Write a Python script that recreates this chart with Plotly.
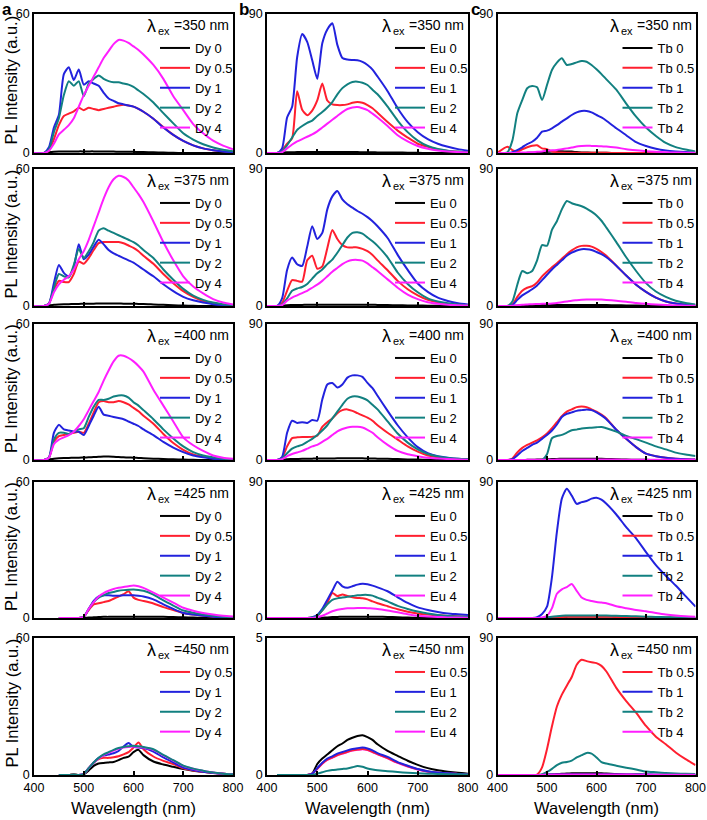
import plotly.graph_objects as go

N = None
WL = [400, 420, 430, 440, 450, 460, 470, 480, 490, 500, 510, 520, 530, 540, 550,
      560, 570, 580, 590, 600, 610, 620, 640, 660, 680, 700, 720, 740, 760, 780, 800]
DOPING = ["0", "0.5", "1", "2", "4"]
IONS = ["Dy", "Eu", "Tb"]
EXCITATION_NM = [350, 375, 400, 425, 450]
Y_MAX = {"Dy": [60, 60, 60, 60, 60], "Eu": [90, 90, 90, 90, 5], "Tb": [90, 90, 90, 90, 90]}
X_TICKS = [400, 500, 600, 700, 800]

# ---------------- Dy series ----------------
dy_350 = {
    "0": [0, 0, 0.3, 0.5, 0.6, 0.6, 0.6, 0.6, 0.7, 0.7, 0.7, 0.7, 0.6, 0.6, 0.6, 0.6, 0.5, 0.5, 0.5, 0.5, 0.4, 0.4, 0.3, 0.2, 0.1, 0, 0, 0, 0, 0, 0],
    "0.5": [0, 0, 1, 6, 12, 16, 17, 18, 19.5, 18.5, 19.5, 19, 18.5, 19, 19.5, 20, 20.5, 20.8, 20.5, 20, 19, 17.8, 14.8, 11.2, 7.8, 5.2, 3.3, 2, 1.2, 0.7, 0.3],
    "1": [0, 0, 2.5, 11, 16.5, 34, 37, 31.5, 36, 29.5, 31, 30, 29, 26, 23.5, 22.5, 21.5, 21, 20.5, 20, 19, 17.8, 14.8, 11, 7.8, 5.2, 3.3, 2, 1.2, 0.6, 0.3],
    "2": [0, 0, 1.5, 9, 15, 25, 31, 29, 31, 24.5, 30, 32, 33.5, 32, 31, 30.5, 30.5, 30, 29.5, 28.5, 27, 25.5, 21.8, 17.2, 12.8, 8.5, 5.8, 3.8, 2.4, 1.4, 0.8],
    "4": [0, 0, 1, 4, 8, 10, 12, 15, 20, 25, 29, 33, 37, 41, 44, 47, 48.8, 48.5, 47.5, 46, 44.5, 42.5, 38, 32, 24.5, 18.5, 12.5, 8.5, 5.3, 3.2, 1.6],
}
dy_375 = {
    "0": [0, 0, 0.3, 0.5, 0.7, 0.8, 0.8, 0.9, 0.9, 1, 1, 1, 1.1, 1.1, 1.1, 1.1, 1.1, 1, 1, 1, 0.9, 0.9, 0.7, 0.5, 0.3, 0.2, 0.1, 0, 0, 0, 0],
    "0.5": [0, 0, 1, 7, 11, 10.5, 10.5, 14, 19.5, 18.5, 21, 24.5, 27.5, 28, 28, 28, 28, 27.5, 26.5, 25.5, 24, 22, 18.5, 14, 10, 6.5, 4, 2.2, 1.2, 0.6, 0.3],
    "1": [0, 0, 1, 10, 18, 14.5, 13, 17, 27, 20.5, 22.5, 26, 29, 27, 24.5, 23, 22, 21, 20, 19, 17.5, 16, 13, 9.5, 6.5, 4, 2.5, 1.5, 0.8, 0.4, 0.2],
    "2": [0, 0, 1, 8, 14, 13, 12.5, 18, 25, 21, 24, 28, 33, 34, 33, 32, 31, 30, 29, 28, 26.5, 24.5, 21, 16, 11.5, 7.5, 4.5, 2.7, 1.5, 0.8, 0.4],
    "4": [0, 0, 1, 6, 9.5, 11.5, 13, 16, 20.5, 24, 29, 35, 41, 47, 52, 55.5, 57, 56.5, 55, 52, 49, 45.5, 37, 28, 20, 13, 8.5, 5.5, 3, 1.5, 0.7],
}
dy_400 = {
    "0": [0, 0, 0.3, 0.6, 0.8, 0.9, 0.9, 1, 1, 1.1, 1.2, 1.3, 1.4, 1.5, 1.5, 1.4, 1.3, 1.2, 1.1, 1, 0.9, 0.8, 0.6, 0.4, 0.3, 0.2, 0.1, 0, 0, 0, 0],
    "0.5": [0, 0, 1, 8, 10.5, 11, 11.5, 12, 12.5, 12, 16, 21, 25.5, 26, 25.5, 25.5, 26, 25.5, 24.5, 23, 21.5, 19.5, 16, 11.5, 7.5, 4.5, 2.5, 1.5, 0.8, 0.4, 0.2],
    "1": [0, 0, 1, 12, 15.5, 13.5, 13, 12.5, 12.5, 11, 15, 19.5, 23.5, 20, 19.5, 19, 18.5, 18, 17, 16, 15, 13.5, 11, 8, 5.5, 3.5, 2, 1.2, 0.6, 0.3, 0.2],
    "2": [0, 0, 1, 9, 12, 12, 11.5, 12.5, 13.5, 14, 19, 23.5, 26.5, 26.5, 27, 28, 28.5, 28.5, 27.5, 25.5, 24, 22, 18, 13.5, 9.5, 6, 3.5, 2, 1.2, 0.6, 0.3],
    "4": [0, 0, 1, 7, 9, 10, 11, 12.5, 15, 18, 22, 26, 30, 35, 39.5, 43.5, 46, 46, 45, 43.5, 41.5, 39, 31, 24, 17, 10, 6.5, 4, 2, 1, 0.5],
}
dy_425 = {
    "0": [N, N, N, N, 0, 0, 0, 0, 0, 0, 0.2, 0.3, 0.4, 0.5, 0.5, 0.6, 0.6, 0.6, 0.6, 0.6, 0.6, 0.6, 0.5, 0.5, 0.4, 0.3, 0.2, 0.1, 0, 0, 0],
    "0.5": [N, N, N, N, 0, 0, 0, 0, 0, 0.5, 3.5, 6, 6.5, 7, 7.5, 8.5, 9.5, 10.5, 11.8, 9, 8, 7.5, 6.4, 4.8, 3.5, 2.2, 1.5, 1, 0.6, 0.4, 0.2],
    "1": [N, N, N, N, 0, 0, 0, 0, 0, 0.5, 4, 7.5, 9.5, 10, 10, 9.8, 9.8, 10, 10, 10, 9.8, 9.5, 8.2, 6, 4, 2.2, 1.5, 1, 0.6, 0.4, 0.2],
    "2": [N, N, N, N, 0, 0, 0, 0, 0, 0.5, 4, 7, 9, 10, 11, 11.5, 12, 12.3, 12.5, 12.6, 12.4, 12, 10.3, 7.8, 5.5, 3.3, 2.3, 1.5, 1, 0.6, 0.4],
    "4": [N, N, N, N, 0, 0, 0, 0, 0, 0.5, 4, 7, 9.5, 11, 12, 12.8, 13.3, 13.7, 14, 14.3, 14, 13.3, 11.2, 9, 6.8, 4.5, 3.2, 2.2, 1.5, 1, 0.7],
}
dy_450 = {
    "0": [N, N, N, N, 0, 0, 0, 0.2, 0, 0.3, 2, 4, 5, 5.3, 5.5, 5.7, 6.5, 7.5, 8, 10, 11, 8.7, 5.9, 4.6, 3.6, 2.6, 1.9, 1.4, 1, 0.6, 0.3],
    "0.5": [N, N, N, N, 0, 0, 0, 0.3, 0, 0.5, 3, 5.5, 7, 7.5, 7.5, 7.8, 8.2, 9, 10, 12, 14.2, 11.3, 8.1, 6.2, 4.8, 2.9, 2, 1.4, 0.9, 0.5, 0.3],
    "1": [N, N, N, N, 0, 0, 0, 0, 0, 0.5, 3, 5.5, 7.5, 8.5, 9, 9.5, 10.5, 12.5, 14, 12.3, 12, 11.8, 10.2, 7.7, 5.5, 3.3, 2.2, 1.4, 0.9, 0.5, 0.3],
    "2": [N, N, N, N, 0, 0, 0, 0.3, 0, 0.5, 3, 5.5, 7.5, 9, 10, 11, 11.8, 12.3, 12.6, 12.8, 12.6, 12.3, 11.3, 8.8, 6.5, 4.1, 2.8, 1.9, 1.1, 0.6, 0.3],
    "4": [N, N, N, N, 0, 0, 0, 0, 0, 0.5, 3, 5.3, 7.2, 8.7, 9.7, 10.7, 11.5, 12, 12.3, 12.5, 12.3, 12, 11, 8.6, 6.3, 4, 2.7, 1.8, 1.1, 0.6, 0.3],
}

# ---------------- Eu series ----------------
eu_350 = {
    "0": [0, 0, 0.3, 0.5, 0.5, 0.6, 0.6, 0.6, 0.6, 0.7, 0.7, 0.7, 0.7, 0.7, 0.7, 0.6, 0.6, 0.6, 0.5, 0.5, 0.5, 0.4, 0.3, 0.3, 0.2, 0.1, 0, 0, 0, 0, 0],
    "0.5": [0, 0, 2, 6, 9.5, 40, 28, 24.5, 27.5, 34, 45, 34, 31.5, 31, 31, 31.5, 32.5, 33, 32.5, 31, 29, 26, 20, 14.5, 10, 6, 4, 2.3, 1.3, 0.8, 0.4],
    "1": [0, 0, 3, 23, 30, 62, 77, 72, 60, 48, 71, 80, 84, 70, 61.5, 60.5, 60.2, 60, 59, 57, 54, 49.5, 40, 29, 20, 13.5, 9, 6, 4, 2.5, 1.5],
    "2": [0, 0, 1, 5, 10, 15, 17.5, 19.5, 21, 24, 26.5, 29.5, 33, 38, 42, 44.5, 46, 46.2, 45.5, 44, 41, 38, 30, 21, 13.5, 8, 4.5, 2.6, 1.5, 0.9, 0.5],
    "4": [0, 0, 0.5, 3, 5.5, 7.5, 9, 10.5, 12, 14, 16.5, 19, 21.5, 24, 26.5, 28.5, 29.5, 29.8, 29, 27.8, 25.5, 23, 17.5, 11.5, 7.5, 4.5, 2.7, 1.6, 1, 0.6, 0.3],
}
eu_375 = {
    "0": [0, 0, 0.3, 0.5, 0.6, 0.7, 0.7, 0.8, 0.8, 0.8, 0.9, 0.9, 0.9, 0.9, 0.9, 0.9, 0.9, 0.9, 0.8, 0.8, 0.8, 0.7, 0.6, 0.5, 0.4, 0.3, 0.2, 0.1, 0, 0, 0],
    "0.5": [0, 0, 2, 10, 17, 16.5, 16, 30, 33, 24.5, 26, 38, 50, 44, 40, 38.5, 38.5, 38.5, 37.5, 36, 33.5, 30, 23.5, 16.5, 11, 7, 4, 2.3, 1.3, 0.7, 0.4],
    "1": [0, 0, 5, 23.7, 31.8, 27.4, 26.3, 39, 52.4, 44, 48, 63.5, 72, 75.6, 70, 66.8, 64.6, 62.4, 60.6, 58.4, 55.7, 52.4, 44.7, 33.6, 23.7, 14.8, 9.3, 5.5, 3.3, 1.8, 1],
    "2": [0, 0, 1, 5, 10, 11.5, 12.5, 14.5, 18, 21.5, 24, 27.5, 30.5, 35, 40, 45, 48, 48.4, 47.5, 45, 42.5, 39.5, 32, 22, 14.5, 9, 5, 3, 1.8, 1, 0.6],
    "4": [0, 0, 0.5, 3.5, 5.5, 7, 8.5, 10, 12, 14, 16.5, 19.5, 22.5, 25, 27.5, 29.3, 30.2, 30.3, 29.8, 28, 25.5, 23, 17.5, 12, 7.5, 4.5, 2.5, 1.5, 0.9, 0.5, 0.3],
}
eu_400 = {
    "0": [0, 0, 0.3, 0.5, 0.6, 0.7, 0.8, 0.8, 0.9, 1, 1, 1, 1, 1.1, 1.1, 1.1, 1.1, 1.1, 1.1, 1, 1, 0.9, 0.8, 0.6, 0.4, 0.3, 0.2, 0.1, 0, 0, 0],
    "0.5": [0, 0, 1.5, 9, 14.5, 15, 15.2, 15.2, 15.3, 16, 22, 25, 27.5, 31, 33, 33.5, 32.5, 31, 29.5, 28, 26, 23, 18, 13.5, 9, 5.5, 3, 1.8, 1, 0.6, 0.3],
    "1": [0, 0, 2, 18, 26, 24.5, 25, 24.5, 26.5, 26, 40, 50, 51, 48, 50, 54.5, 56, 56, 55, 51, 47.5, 42.5, 32.5, 23, 15, 8.5, 4.5, 2.5, 1.5, 0.8, 0.5],
    "2": [0, 0, 1, 4.5, 7.5, 9, 10, 12, 14, 16.5, 19.5, 23, 27.5, 32, 36.5, 40.5, 42, 42, 41, 39.5, 36.5, 33.5, 25.5, 17.5, 11.5, 7, 4, 2.4, 1.4, 0.8, 0.5],
    "4": [0, 0, 0.5, 2.5, 4, 5, 6, 7.5, 9, 10, 12, 14, 16.5, 19, 20.5, 21.5, 22, 22, 21.5, 20, 18, 15, 10, 6, 3.8, 2.5, 1.5, 1, 0.6, 0.3, 0.2],
}
eu_425 = {
    "0": [0, 0, 0, 0, 0, 0, 0, 0, 0, 0, 0.2, 0.4, 0.6, 0.7, 0.8, 0.8, 0.8, 0.8, 0.8, 0.8, 0.8, 0.8, 0.7, 0.5, 0.3, 0.2, 0.1, 0, 0, 0, 0],
    "0.5": [0, 0, 0, 0, 0, 0, 0, 0, 0.3, 1.5, 5, 10, 16.5, 14.5, 15.5, 14.5, 13.8, 13.3, 13, 12.3, 11, 9.8, 7.8, 5.8, 4.2, 3, 2.3, 1.8, 1.4, 1.1, 0.9],
    "1": [0, 0, 0, 0, 0, 0, 0, 0, 0.5, 2, 6, 12, 18, 24, 21, 20, 21, 22.1, 22.6, 22.3, 21.4, 20.3, 17.7, 13.7, 10, 7, 5.3, 4, 3, 2.5, 2],
    "2": [0, 0, 0, 0, 0, 0, 0, 0, 0.3, 1.5, 5, 9, 12, 13, 13.5, 14, 14.5, 15, 15.3, 15.3, 14.8, 13.5, 11, 8, 6, 4.3, 3, 2, 1.4, 1, 0.8],
    "4": [0, 0, 0, 0, 0, 0, 0, 0, 0, 0.5, 1.5, 3, 4.5, 5.5, 6, 6.4, 6.5, 6.6, 6.6, 6.5, 6.3, 6, 5, 3.8, 2.5, 1.5, 1, 0.7, 0.4, 0.3, 0.2],
}
eu_450 = {
    "0": [N, 0, 0, 0, 0, 0, 0, 0, 0.05, 0.4, 0.6, 0.75, 0.9, 1.05, 1.15, 1.28, 1.36, 1.42, 1.45, 1.38, 1.28, 1.12, 0.88, 0.7, 0.52, 0.37, 0.25, 0.17, 0.12, 0.08, 0.05],
    "0.5": [N, 0, 0, 0, 0, 0, 0, 0, 0.05, 0.23, 0.42, 0.56, 0.64, 0.73, 0.79, 0.85, 0.9, 0.93, 0.95, 0.92, 0.85, 0.76, 0.62, 0.45, 0.32, 0.21, 0.13, 0.08, 0.05, 0.04, 0.03],
    "1": [N, 0, 0, 0, 0, 0, 0, 0, 0.05, 0.25, 0.45, 0.6, 0.68, 0.78, 0.84, 0.9, 0.95, 0.98, 1.0, 0.97, 0.9, 0.8, 0.66, 0.47, 0.34, 0.22, 0.14, 0.09, 0.06, 0.04, 0.03],
    "2": [N, 0, 0, 0, 0, 0, 0, 0, 0, 0.05, 0.1, 0.15, 0.18, 0.2, 0.22, 0.24, 0.28, 0.33, 0.3, 0.24, 0.2, 0.17, 0.14, 0.11, 0.08, 0.06, 0.05, 0.04, 0.03, 0.03, 0.02],
    "4": [N, 0, 0, 0, 0, 0, 0, 0, 0.05, 0.22, 0.41, 0.55, 0.63, 0.72, 0.78, 0.84, 0.89, 0.92, 0.94, 0.91, 0.84, 0.75, 0.61, 0.44, 0.31, 0.2, 0.12, 0.08, 0.05, 0.04, 0.03],
}

# ---------------- Tb series ----------------
tb_350 = {
    "0": [0, 0, 0, 0, 0, 0.1, 0.2, 0.3, 0.5, 0.8, 1, 1.1, 1.1, 1, 0.9, 0.6, 0.4, 0.3, 0.2, 0.2, 0.1, 0.1, 0, 0, 0, 0, 0, 0, 0, 0, 0],
    "0.5": [0.2, 4, 1.9, 0.9, 2.4, 3.7, 4.7, 5, 3, 2.5, 1, 0.5, 0.3, 0.2, 0.2, 0.2, 0.2, 0.1, 0.1, 0.1, 0.1, 0.1, 0, 0, 0, 0, 0, 0, 0, 0, 0],
    "1": [0, 0, 0.5, 1.9, 3.7, 5.8, 7.3, 9.9, 13.8, 14.5, 16, 18, 20.3, 22.4, 24.6, 26.3, 27.2, 27.2, 26.3, 24.6, 23, 20.9, 16, 11.5, 7, 4.5, 2.7, 1.6, 1, 0.6, 0.3],
    "2": [0, 0.5, 8, 25.7, 34.3, 41.9, 43.4, 42.5, 34.3, 44, 53.7, 58.5, 61.3, 57, 57.6, 58.7, 59.6, 59.1, 57, 54.2, 51.1, 47.7, 41, 32, 23.5, 16.5, 11, 6.5, 3.8, 2.2, 1],
    "4": [0, 0, 0, 0.2, 0.3, 0.4, 0.5, 0.8, 1, 1.5, 1.7, 2, 2.5, 3, 3.5, 4.2, 4.5, 4.7, 4.6, 4.5, 4.3, 4.2, 3.5, 2.5, 1.8, 1.2, 0.8, 0.5, 0.3, 0.2, 0.1],
}
tb_375 = {
    "0": [0, 0, 0, 0.2, 0.3, 0.4, 0.5, 0.5, 0.6, 0.6, 0.7, 0.7, 0.7, 0.7, 0.7, 0.7, 0.7, 0.7, 0.7, 0.7, 0.7, 0.6, 0.5, 0.4, 0.3, 0.2, 0.1, 0, 0, 0, 0],
    "0.5": [0, 0, 1, 6, 10, 12, 13, 15.5, 19.5, 22.5, 25.5, 28, 31, 34, 36.5, 38.5, 39.5, 39.5, 39, 37.5, 35.5, 33, 26.5, 20, 14, 9.3, 5.5, 3, 1.7, 1, 0.5],
    "1": [0, 0, 0.5, 4, 7, 9, 11, 13.5, 17, 20.5, 24, 27, 30, 33, 35, 36.5, 37.3, 37.3, 36.8, 35.5, 34, 32, 26.5, 20, 14, 9.3, 5.5, 3, 1.7, 1, 0.5],
    "2": [0, 0, 3, 14, 23, 21.5, 23, 30, 40, 39.6, 50, 55.7, 63.5, 69, 67.5, 66.5, 65.5, 64, 62, 59.5, 56, 51.5, 42, 32, 23, 15, 9.5, 6, 3.5, 2, 1],
    "4": [0, 0, 0.2, 0.5, 0.8, 1, 1.2, 1.3, 1.4, 1.5, 1.7, 2, 2.5, 3, 3.5, 3.8, 4.1, 4.3, 4.3, 4.3, 4.2, 4, 3.5, 2.8, 2, 1.4, 1, 0.7, 0.4, 0.2, 0.1],
}
tb_400 = {
    "0": [0, 0, 0, 0, 0, 0.1, 0.2, 0.3, 0.4, 0.5, 0.6, 0.7, 0.8, 0.9, 0.9, 0.9, 0.9, 0.9, 0.9, 0.8, 0.8, 0.7, 0.5, 0.3, 0.2, 0.1, 0, 0, 0, 0, 0],
    "0.5": [0, 0, 1, 5, 8, 10, 11.5, 13, 15, 17.5, 21, 25, 29, 32, 33.5, 35, 35.4, 35, 33.5, 32, 30, 27.5, 20, 14, 8.5, 4.2, 2.5, 1.5, 0.9, 0.5, 0.3],
    "1": [0, 0, 0.5, 3, 6, 8, 10, 11.5, 14, 16.5, 19.5, 23.5, 28.5, 30.5, 31.5, 32.5, 33, 33.5, 33, 31.5, 29.5, 27, 20, 14, 8.5, 4.2, 2.5, 1.5, 0.9, 0.5, 0.3],
    "2": [0, 0, 0, 0, 0, 0, 0, 0, 0, 3.8, 14.4, 15.9, 16.6, 18.1, 19.7, 20.1, 20.8, 21.2, 21.4, 21.7, 21.9, 21, 18.8, 16, 13.8, 11.5, 9, 7, 4.9, 3.7, 2.7],
    "4": [0, 0, 0, 0, 0, 0.1, 0.1, 0.1, 0.2, 0.2, 0.2, 0.3, 0.3, 0.3, 0.3, 0.3, 0.3, 0.3, 0.3, 0.3, 0.3, 0.3, 0.3, 0.2, 0.2, 0.2, 0.1, 0.1, 0.1, 0.1, 0.1],
}
tb_425 = {
    "0": [0, 0, 0, 0, 0, 0, 0, 0, 0, 0.2, 0.5, 0.7, 0.8, 0.9, 1, 1, 1, 1, 1, 1, 1, 1, 0.9, 0.8, 0.6, 0.4, 0.3, 0.2, 0.1, 0, 0],
    "0.5": [0, 0, 0, 0, 0, 0, 0, 0, 0, 0.2, 0.4, 0.6, 0.7, 0.8, 0.8, 0.8, 0.8, 0.8, 0.8, 0.8, 0.8, 0.8, 0.7, 0.6, 0.5, 0.4, 0.3, 0.2, 0.1, 0.1, 0],
    "1": [0, 0, 0, 0, 0, 0, 0, 0.5, 2.7, 7.5, 27, 57, 79, 85.6, 81, 75.5, 76.7, 77.4, 79, 79.6, 78.3, 75.6, 68.5, 60.1, 52.7, 43.6, 35, 28, 21.5, 14.5, 7.5],
    "2": [0, 0, 0, 0, 0, 0, 0, 0, 0, 0.3, 0.8, 1.2, 1.5, 1.6, 1.7, 1.7, 1.7, 1.7, 1.7, 1.7, 1.6, 1.6, 1.5, 1.3, 1.1, 0.9, 0.7, 0.5, 0.4, 0.3, 0.2],
    "4": [0, 0, 0, 0, 0, 0, 0, 0, 0.3, 1.5, 6.5, 16, 19, 20.5, 22.5, 18, 13.5, 12, 11.3, 10.6, 10.2, 9.8, 7.8, 6.5, 5.3, 4.4, 3.3, 2.3, 1.6, 1.1, 0.8],
}
tb_450 = {
    "0": [0, 0, 0, 0, 0, 0, 0, 0, 0, 0.2, 0.4, 0.6, 0.8, 1, 1.1, 1.2, 1.2, 1.2, 1.2, 1.2, 1.1, 1, 0.6, 0.4, 0.3, 0.2, 0.1, 0.1, 0, 0, 0],
    "0.5": [0, 0, 0, 0, 0, 0, 0, 0.3, 5, 17, 32, 45, 52.8, 58.7, 64.4, 72.4, 75.7, 74.8, 74.1, 73.5, 71.7, 68, 57.2, 48.5, 40.9, 32.2, 25.2, 20.2, 14.8, 10.4, 6.5],
    "1": [0, 0, 0, 0, 0, 0, 0, 0, 0.1, 0.2, 0.3, 0.3, 0.4, 0.4, 0.4, 0.4, 0.4, 0.4, 0.4, 0.4, 0.4, 0.4, 0.4, 0.3, 0.3, 0.3, 0.2, 0.2, 0.2, 0.1, 0.1],
    "2": [0, 0, 0, 0, 0, 0, 0, 0, 0.5, 2, 4, 6.5, 8, 8.5, 9.5, 11.5, 13, 14.5, 14, 11.5, 8.5, 7.5, 6.1, 4.8, 3.6, 2.3, 1.8, 1.3, 1, 0.8, 0.6],
    "4": [0, 0, 0, 0, 0, 0, 0, 0, 0.1, 0.2, 0.2, 0.3, 0.3, 0.3, 0.3, 0.3, 0.3, 0.3, 0.3, 0.3, 0.3, 0.3, 0.3, 0.3, 0.2, 0.2, 0.2, 0.1, 0.1, 0.1, 0.1],
}

SPECTRA = {
    "Dy": [dy_350, dy_375, dy_400, dy_425, dy_450],
    "Eu": [eu_350, eu_375, eu_400, eu_425, eu_450],
    "Tb": [tb_350, tb_375, tb_400, tb_425, tb_450],
}

# ---------------- styling / layout ----------------
COLORS = {"0": "#000000", "0.5": "#ff1f2f", "1": "#2222dd", "2": "#128080", "4": "#ff1eff"}
FONT = "Liberation Sans, Arial, Helvetica, sans-serif"
W, H = 707, 820
COL_PX = [(34, 233), (267, 468), (497.5, 695.5)]
ROW_PX = [(14, 153), (169, 306), (324, 460), (482, 618), (638, 775)]


def ann(text, xpx, ypx, size, xanchor="center", yanchor="middle", **kw):
    return dict(text=text, x=xpx / W, y=1 - ypx / H, xref="paper", yref="paper",
                xanchor=xanchor, yanchor=yanchor, showarrow=False, borderpad=0,
                font=dict(size=size, color="black", family=FONT), **kw)


fig = go.Figure()
layout = {}
annotations = []

for c, ion in enumerate(IONS):
    for r, ex in enumerate(EXCITATION_NM):
        k = r * 3 + c + 1
        sfx = "" if k == 1 else str(k)
        spectra = SPECTRA[ion][r]
        ymax = Y_MAX[ion][r]
        if r == 4 and ion == "Dy":
            order = ["0", "0.5", "1", "4", "2"]
        elif r == 4 and ion == "Eu":
            order = ["0", "4", "0.5", "1", "2"]
        else:
            order = DOPING
        for d in order:
            fig.add_trace(go.Scatter(
                x=WL, y=spectra[d], xaxis="x" + sfx, yaxis="y" + sfx, mode="lines",
                name=f"{ion} {d}", legend="legend" + sfx,
                legendrank=100 + DOPING.index(d),
                showlegend=not (r == 4 and d == "0"),
                line=dict(color=COLORS[d], width=2, shape="spline", smoothing=0.6),
            ))
        x0, x1 = COL_PX[c]
        y0, y1 = ROW_PX[r]
        layout["xaxis" + sfx] = dict(
            domain=[x0 / W, x1 / W], anchor="y" + sfx, range=[400, 800], automargin=False,
            tickmode="array", tickvals=X_TICKS,
            ticks="inside", ticklen=4, tickwidth=1.5,
            tickcolor="black", showticklabels=(r == 4), ticklabeloverflow="allow",
            tickfont=dict(size=12.5, color="black", family=FONT),
            showline=True, linecolor="black", linewidth=1.8, mirror=True,
            showgrid=False, zeroline=False, fixedrange=True,
        )
        layout["yaxis" + sfx] = dict(
            domain=[1 - y1 / H, 1 - y0 / H], anchor="x" + sfx, range=[0, ymax], automargin=False,
            tickmode="array", tickvals=[0, ymax], ticks="", ticklabeloverflow="allow",
            tickfont=dict(size=12.5, color="black", family=FONT),
            showline=True, linecolor="black", linewidth=1.8, mirror=True,
            showgrid=False, zeroline=False, fixedrange=True,
        )
        layout["legend" + sfx] = dict(
            x=(x1 - 78) / W, xanchor="left", y=1 - (y0 + 19) / H, yanchor="top",
            bgcolor="rgba(0,0,0,0)", borderwidth=0, itemwidth=30, tracegroupgap=0,
            font=dict(size=13, color="black", family=FONT),
        )
        # excitation label: lambda, subscript "ex", value
        annotations.append(ann("λ", x1 - 76, y0 + 12, 18, xanchor="right"))
        annotations.append(ann("ex", x1 - 76, y0 + 17, 11, xanchor="left"))
        annotations.append(ann("=%d nm" % ex, x1 - 3, y0 + 11, 14, xanchor="right"))
        if c == 0:
            annotations.append(ann("PL Intensity (a.u.)", 11, (y0 + y1) / 2 - 3, 16.5,
                                   textangle=-90))
    x0, x1 = COL_PX[c]
    annotations.append(ann("Wavelength (nm)", (x0 + x1) / 2, 808, 16.5))

for letter, px in zip(["a", "b", "c"], [7, 244, 475]):
    annotations.append(ann(f"<b>{letter}</b>", px, 9, 17))

fig.update_layout(
    width=W, height=H, autosize=False,
    margin=dict(l=0, r=0, t=0, b=0, autoexpand=False),
    paper_bgcolor="white", plot_bgcolor="white",
    font=dict(family=FONT, color="black"),
    annotations=annotations,
    **layout,
)

# the page's default 8px body margin would shift the fixed-size figure; remove it
fig.write_html("out.html", config={"displayModeBar": False},
               post_script="document.body.style.margin='0px';")
